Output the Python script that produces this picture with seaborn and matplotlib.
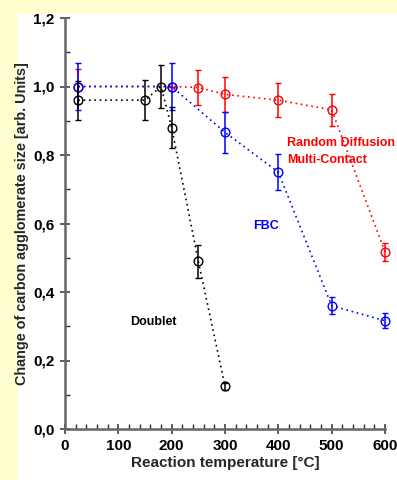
import numpy as np
import pandas as pd
import matplotlib
matplotlib.use("Agg")
import matplotlib.pyplot as plt
import seaborn as sns
from matplotlib.ticker import MultipleLocator, FuncFormatter
from matplotlib.patches import Rectangle

# Doublet (black)
doublet_t = [25, 150, 180, 200, 250, 300]
doublet_v = [0.96, 0.96, 1.0, 0.88, 0.49, 0.125]
doublet_e = [0.057, 0.058, 0.063, 0.06, 0.048, 0.01]

# FBC (blue)
fbc_t = [25, 200, 300, 400, 500, 600]
fbc_v = [1.0, 1.0, 0.866, 0.75, 0.36, 0.316]
fbc_e = [0.07, 0.07, 0.061, 0.053, 0.024, 0.022]

# Random Diffusion Multi-Contact (red)
rdmc_t = [25, 200, 250, 300, 400, 500, 600]
rdmc_v = [1.0, 1.0, 0.997, 0.977, 0.96, 0.932, 0.517]
rdmc_e = [0.05, 0.0, 0.05, 0.05, 0.05, 0.046, 0.026]

series = [
    (rdmc_t, rdmc_v, rdmc_e, "#ff0000"),
    (fbc_t, fbc_v, fbc_e, "#0000ff"),
    (doublet_t, doublet_v, doublet_e, "#000000"),
]

sns.set_style("ticks")
plt.rcParams["font.family"] = ["Liberation Sans", "DejaVu Sans"]
plt.rcParams["font.weight"] = "bold"

fig = plt.figure(figsize=(3.97, 4.8), dpi=100)
fig.patch.set_facecolor("#ffffd0")
fig.patches.append(Rectangle((18 / 397, 0), 1, 1 - 14 / 480, transform=fig.transFigure,
                             facecolor="white", edgecolor="none", zorder=-1))
ax = fig.add_axes([65 / 397, 51 / 480, 320 / 397, 411 / 480])
ax.set_facecolor("none")

for t, v, e, c in series:
    df = pd.DataFrame({"t": t, "v": v})
    sns.lineplot(data=df, x="t", y="v", ax=ax, color=c, linestyle=(0, (1, 2.2)),
                 linewidth=1.2, marker="o", markersize=6.3, markerfacecolor="none",
                 markeredgecolor=c, markeredgewidth=1.0, clip_on=False)
    ax.errorbar(t, v, yerr=e, fmt="none", ecolor=c, elinewidth=1.1, capsize=2.5,
                capthick=1.0, clip_on=False)

lab_kw = dict(fontsize=9, fontweight="bold", ha="left", va="center")
ax.text(416, 0.835, "Random Diffusion", color="#ff0000", **lab_kw)
ax.text(416, 0.785, "Multi-Contact", color="#ff0000", **lab_kw)
ax.text(352, 0.593, "FBC", color="#0000ff", **lab_kw)
ax.text(122, 0.312, "Doublet", color="#000000", **lab_kw)

ax.set_xlim(0, 600)
ax.set_ylim(0, 1.2)
ax.xaxis.set_major_locator(MultipleLocator(100))
ax.xaxis.set_minor_locator(MultipleLocator(20))
ax.yaxis.set_major_locator(MultipleLocator(0.2))
ax.yaxis.set_minor_locator(MultipleLocator(0.1))
ax.yaxis.set_major_formatter(FuncFormatter(lambda y, p: f"{y:.1f}".replace(".", ",")))
ax.tick_params(which="major", direction="inout", length=7, width=1.1, labelsize=11,
               colors="#333333", labelcolor="black", pad=4)
ax.tick_params(which="minor", direction="in", length=3.5, width=1.0, colors="#333333")
for lab in ax.get_xticklabels() + ax.get_yticklabels():
    lab.set_fontweight("bold")

sns.despine(ax=ax)
for s in ("left", "bottom"):
    ax.spines[s].set_linewidth(1.8)
    ax.spines[s].set_color("#666666")

ax.set_xlabel("Reaction temperature [°C]", fontsize=11, fontweight="bold", labelpad=2)
ax.set_ylabel("Change of carbon agglomerate size [arb. Units]", fontsize=10.4,
              fontweight="bold", labelpad=3)

fig.savefig("out.png", dpi=100, facecolor=fig.get_facecolor())
